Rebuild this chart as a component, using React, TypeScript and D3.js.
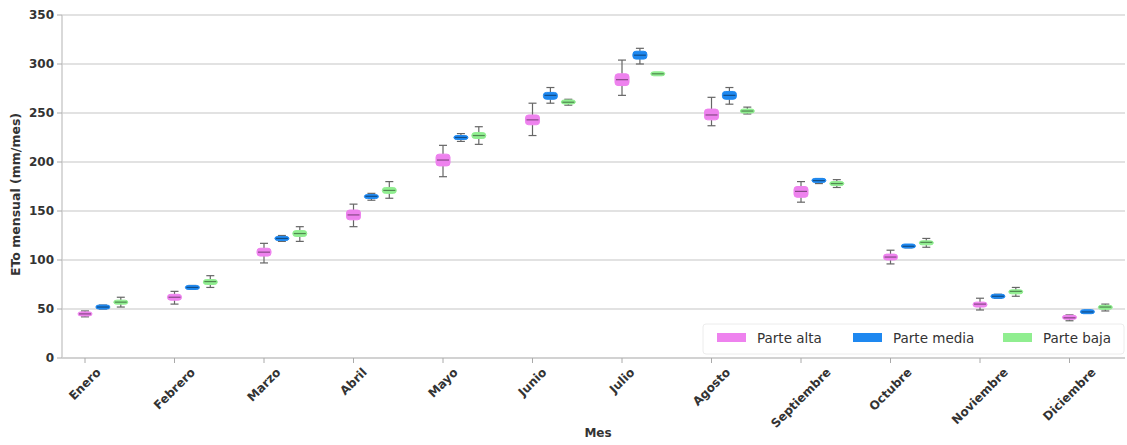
import React, { useEffect, useRef } from "react";
import * as d3 from "d3";

const months = ["Enero", "Febrero", "Marzo", "Abril", "Mayo", "Junio", "Julio", "Agosto", "Septiembre", "Octubre", "Noviembre", "Diciembre"];
const seriesNames = ["Parte alta", "Parte media", "Parte baja"];
const seriesColors = ["#ee82ee", "#1e88f0", "#90ee90"];
const seriesOffsets = [0, 0.2, 0.4];
const yTicks = [0, 50, 100, 150, 200, 250, 300, 350];

// [min, q1, median, q3, max]
const parteAlta: number[][] = [
  [42, 43.5, 45, 46.5, 48],
  [55, 59, 62, 65, 68],
  [97, 104, 108, 112, 117],
  [134, 141, 146, 151, 157],
  [185, 196, 202, 208, 217],
  [227, 238, 243, 248, 260],
  [268, 278, 284, 290, 304],
  [237, 243, 248, 254, 266],
  [159, 164, 170, 175, 180],
  [96, 100, 103, 106, 110],
  [49, 52, 55, 57, 61],
  [38, 40, 41, 43, 44],
];
const parteMedia: number[][] = [
  [50, 51, 52, 53, 54],
  [70, 71, 72, 73, 74],
  [119, 120.5, 122, 123.5, 125],
  [161, 163, 165, 166.5, 168],
  [221, 223, 225, 227, 229],
  [260, 264, 268, 271, 276],
  [300, 305, 309, 313, 316],
  [259, 264, 268, 272, 276],
  [178, 180, 181, 182.5, 183],
  [112.5, 113.5, 114, 115, 115.5],
  [61, 62, 63, 64, 65],
  [45.5, 46.5, 47, 48, 48.5],
];
const parteBaja: number[][] = [
  [52, 55, 57, 59, 62],
  [72, 75, 78, 80, 84],
  [119, 124, 127, 130, 134],
  [163, 168, 171, 174, 180],
  [218, 224, 227, 230, 236],
  [258, 259.5, 261, 263, 264],
  [289, 289.5, 290, 290.5, 291],
  [249, 250.5, 252, 253.5, 256],
  [174, 176.5, 178, 179.5, 182],
  [113, 115.5, 118, 119.5, 122],
  [63, 65.5, 68, 69.5, 72],
  [48, 50, 52, 53.5, 55],
];
const seriesData = [parteAlta, parteMedia, parteBaja];

const W = 1127;
const H = 445;
const FONT = "'DejaVu Sans', Verdana, sans-serif";

export default function App() {
  const ref = useRef<SVGSVGElement | null>(null);

  useEffect(() => {
    const svg = d3.select(ref.current);
    svg.selectAll("*").remove();

    const left = 62, right = 1125, top = 15, bottom = 358;
    const x = d3.scaleLinear().domain([-0.257, 11.62]).range([left, right]);
    const y = d3.scaleLinear().domain([0, 350]).range([bottom, top]);

    const g = svg.append("g");

    // grid lines
    g.selectAll("line.grid")
      .data(yTicks)
      .enter()
      .append("line")
      .attr("x1", left)
      .attr("x2", right)
      .attr("y1", (d) => y(d))
      .attr("y2", (d) => y(d))
      .attr("stroke", "#d9d9d9")
      .attr("stroke-width", 1.5);

    // axes
    g.append("line").attr("x1", left).attr("x2", left).attr("y1", top).attr("y2", bottom).attr("stroke", "#cccccc").attr("stroke-width", 1.5);
    g.append("line").attr("x1", left).attr("x2", right).attr("y1", bottom).attr("y2", bottom).attr("stroke", "#cccccc").attr("stroke-width", 1.5);

    // y ticks
    yTicks.forEach((t) => {
      g.append("line").attr("x1", left - 5).attr("x2", left).attr("y1", y(t)).attr("y2", y(t)).attr("stroke", "#aaaaaa");
      g.append("text")
        .attr("x", left - 8)
        .attr("y", y(t))
        .attr("dy", "0.35em")
        .attr("text-anchor", "end")
        .attr("font-family", FONT)
        .attr("font-weight", "bold")
        .attr("font-size", 12)
        .attr("fill", "#333")
        .text(String(t));
    });

    // x ticks and labels
    months.forEach((m, i) => {
      const xx = x(i);
      g.append("line").attr("x1", xx).attr("x2", xx).attr("y1", bottom).attr("y2", bottom + 5).attr("stroke", "#aaaaaa");
      const t = g.append("text")
        .attr("font-family", FONT)
        .attr("font-weight", "bold")
        .attr("font-size", 12)
        .attr("fill", "#333")
        .attr("text-anchor", "middle")
        .attr("dominant-baseline", "central")
        .text(m);
      const w = (t.node() as SVGTextElement).getComputedTextLength();
      const h = 12;
      const half = (w + h) / (2 * Math.SQRT2);
      t.attr("transform", `translate(${xx},${bottom + 8 + half}) rotate(-45)`);
    });

    // axis titles
    g.append("text")
      .attr("x", 598)
      .attr("y", 437)
      .attr("text-anchor", "middle")
      .attr("font-family", FONT)
      .attr("font-weight", "bold")
      .attr("font-size", 12)
      .attr("fill", "#333")
      .text("Mes");
    g.append("text")
      .attr("transform", `translate(20,${(top + bottom) / 2 + 8}) rotate(-90)`)
      .attr("text-anchor", "middle")
      .attr("font-family", FONT)
      .attr("font-weight", "bold")
      .attr("font-size", 12.5)
      .attr("fill", "#333")
      .text("ETo mensual (mm/mes)");

    // boxes
    const bw = 14;
    seriesData.forEach((data, s) => {
      const color = seriesColors[s];
      const dark = d3.color(color)!.darker(1.6).formatHex();
      data.forEach((st, i) => {
        const cx = x(i + seriesOffsets[s]);
        const [mn, q1, md, q3, mx] = st;
        const bg = g.append("g");
        bg.append("line").attr("x1", cx).attr("x2", cx).attr("y1", y(mx)).attr("y2", y(q3)).attr("stroke", "#666").attr("stroke-width", 1.2);
        bg.append("line").attr("x1", cx).attr("x2", cx).attr("y1", y(q1)).attr("y2", y(mn)).attr("stroke", "#666").attr("stroke-width", 1.2);
        bg.append("line").attr("x1", cx - 4).attr("x2", cx + 4).attr("y1", y(mx)).attr("y2", y(mx)).attr("stroke", "#666").attr("stroke-width", 1.2);
        bg.append("line").attr("x1", cx - 4).attr("x2", cx + 4).attr("y1", y(mn)).attr("y2", y(mn)).attr("stroke", "#666").attr("stroke-width", 1.2);
        const bh = Math.max(y(q1) - y(q3), 4);
        bg.append("rect")
          .attr("x", cx - bw / 2)
          .attr("y", (y(q1) + y(q3)) / 2 - bh / 2)
          .attr("width", bw)
          .attr("height", bh)
          .attr("rx", 3)
          .attr("fill", color)
          .attr("stroke", color);
        bg.append("line").attr("x1", cx - bw / 2 + 1).attr("x2", cx + bw / 2 - 1).attr("y1", y(md)).attr("y2", y(md)).attr("stroke", dark).attr("stroke-width", 1.2);
      });
    });

    // legend
    const lg = g.append("g");
    lg.append("rect").attr("x", 703).attr("y", 324).attr("width", 421).attr("height", 30).attr("rx", 3).attr("fill", "white").attr("fill-opacity", 0.85).attr("stroke", "#ececec");
    const legendX = [717, 853, 1003];
    seriesNames.forEach((n, s) => {
      lg.append("rect").attr("x", legendX[s]).attr("y", 333).attr("width", 29).attr("height", 9).attr("fill", seriesColors[s]);
      lg.append("text")
        .attr("x", legendX[s] + 40)
        .attr("y", 338)
        .attr("dy", "0.35em")
        .attr("font-family", FONT)
        .attr("font-size", 13.5)
        .attr("fill", "#333")
        .text(n);
    });
  }, []);

  return (
    <svg ref={ref} width={W} height={H} style={{ position: "absolute", left: 0, top: 0, background: "white" }} />
  );
}
